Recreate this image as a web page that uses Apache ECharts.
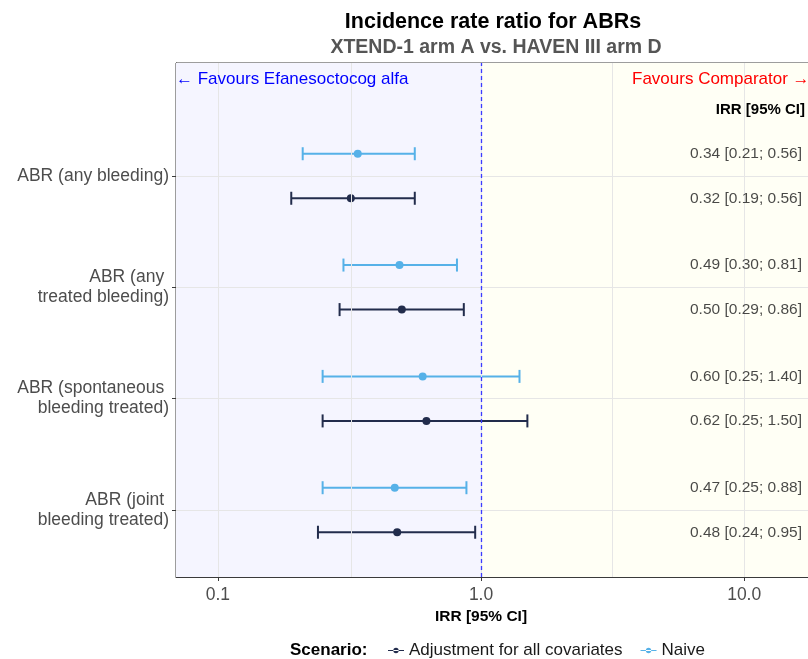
<!DOCTYPE html>
<html><head><meta charset="utf-8">
<script src="https://cdn.jsdelivr.net/npm/echarts@6/dist/echarts.min.js"></script>
<style>html,body{margin:0;padding:0;background:#fff}#c{width:808px;height:659px}</style>
</head><body><div id="c"></div>
<script>
const categories = ['ABR (any bleeding)', 'ABR (any \ntreated bleeding)', 'ABR (spontaneous \nbleeding treated)', 'ABR (joint \nbleeding treated)'];
const naiveEst = [0.34, 0.49, 0.60, 0.47];
const naiveLow = [0.21, 0.30, 0.25, 0.25];
const naiveHigh = [0.56, 0.81, 1.40, 0.88];
const adjEst = [0.32, 0.50, 0.62, 0.48];
const adjLow = [0.19, 0.29, 0.25, 0.24];
const adjHigh = [0.56, 0.86, 1.50, 0.95];
const xTicks = [0.1, 1, 10];
const xMinor = [0.316, 3.162];
const seriesNames = ['Adjustment for all covariates', 'Naive'];

const FONT = 'Liberation Sans, Arial, sans-serif';
const X_MIN = 0.0693, X_MAX = 17.48, Y_MIN = 0.398, Y_MAX = 5.015;
const ANN_X = 16.59;
const cAdj = '#222c4c', cNaive = '#56b1e8';
const n = categories.length;
const yPos = categories.map((_, i) => n - i);
const fmt = v => v.toFixed(2);

function errBar(color) {
  return function (params, api) {
    const lo = api.value(0), hi = api.value(1), y = api.value(2);
    const p1 = api.coord([lo, y]), p2 = api.coord([hi, y]);
    const h = 6.5;
    const st = { stroke: color, lineWidth: 2 };
    return { type: 'group', children: [
      { type: 'line', shape: { x1: p1[0], y1: p1[1], x2: p2[0], y2: p2[1] }, style: st },
      { type: 'line', shape: { x1: p1[0], y1: p1[1] - h, x2: p1[0], y2: p1[1] + h }, style: st },
      { type: 'line', shape: { x1: p2[0], y1: p2[1] - h, x2: p2[0], y2: p2[1] + h }, style: st }
    ]};
  };
}

const naiveY = yPos.map(p => p + 0.2), adjY = yPos.map(p => p - 0.2);
const iconPath = 'path://M0,3.4h18v1.4h-18z M6,4.1a3,3 0 1,0 6,0a3,3 0 1,0 -6,0z';

const chart = echarts.init(document.getElementById('c'));
chart.setOption({
  animation: false,
  textStyle: { fontFamily: FONT },
  title: [
    { text: 'Incidence rate ratio for ABRs', left: 488, top: 6, textAlign: 'center',
      textStyle: { fontSize: 21.5, fontWeight: 'bold', color: '#000', fontFamily: FONT } },
    { text: 'XTEND-1 arm A vs. HAVEN III arm D', left: 491, top: 33, textAlign: 'center',
      textStyle: { fontSize: 19.5, fontWeight: 'bold', color: '#555', fontFamily: FONT } }
  ],
  legend: {
    left: 383, top: 637, itemWidth: 16, itemHeight: 8, itemGap: 18,
    data: seriesNames.map(s => ({ name: s, icon: iconPath })),
    textStyle: { fontSize: 17, color: '#1a1a1a', fontFamily: FONT }
  },
  graphic: [
    { type: 'text', left: 290, top: 642, style: { text: 'Scenario:', font: 'bold 17px ' + FONT, fill: '#000' } },
    { type: 'text', left: 176, top: 71, z: 10, style: { text: '\u2190 Favours Efanesoctocog alfa', font: '17px ' + FONT, fill: '#0000ff' } },
    { type: 'text', left: 632, top: 71, z: 10, style: { text: 'Favours Comparator \u2192', font: '17px ' + FONT, fill: '#ff0000' } },
    { type: 'text', right: 3, top: 102, z: 10, style: { text: 'IRR [95% CI]', font: 'bold 15px ' + FONT, fill: '#000' } }
  ],
  grid: { left: 176, top: 63, width: 634, height: 514, show: true, borderColor: '#3a3a3a', borderWidth: 1, backgroundColor: 'transparent' },
  xAxis: {
    type: 'log', logBase: 10, min: X_MIN, max: X_MAX,
    name: 'IRR [95% CI]', nameLocation: 'middle', nameGap: 21,
    nameTextStyle: { fontSize: 15.5, fontWeight: 'bold', color: '#000', padding: [0, 22, 0, 0], fontFamily: FONT },
    axisLine: { show: true, lineStyle: { color: '#3a3a3a' } },
    axisTick: { show: true, length: 4, customValues: xTicks, lineStyle: { color: '#3a3a3a' } },
    axisLabel: { customValues: xTicks, fontSize: 17.5, color: '#4d4d4d', margin: 9, formatter: v => Number(v).toFixed(1) },
    splitLine: { show: false }
  },
  yAxis: {
    type: 'value', min: Y_MIN, max: Y_MAX,
    axisLine: { show: true, lineStyle: { color: '#3a3a3a' } },
    axisTick: { show: true, length: 4, customValues: yPos, lineStyle: { color: '#3a3a3a' } },
    axisLabel: { customValues: yPos, fontSize: 17.5, color: '#4d4d4d', margin: 7, lineHeight: 20, align: 'right',
      formatter: v => categories[n - Math.round(v)] },
    splitLine: { show: false }
  },
  series: [
    { type: 'scatter', data: [], silent: true, z: 0,
      markArea: { silent: true, data: [
        [{ xAxis: X_MIN, itemStyle: { color: '#f5f5ff' } }, { xAxis: 1 }],
        [{ xAxis: 1, itemStyle: { color: '#fffff5' } }, { xAxis: X_MAX }]
      ] },
      markLine: { silent: true, symbol: 'none', label: { show: false },
        lineStyle: { color: '#e6e6e6', width: 1, type: 'solid' },
        data: xTicks.concat(xMinor).map(v => ({ xAxis: v })).concat(yPos.map(v => ({ yAxis: v }))) }
    },
    { type: 'scatter', data: [], silent: true, z: 1,
      markLine: { silent: true, symbol: 'none', label: { show: false },
        lineStyle: { color: '#3b3bff', width: 1.3, type: [4, 3] },
        data: [{ xAxis: 1 }] }
    },
    { type: 'custom', name: seriesNames[1], renderItem: errBar(cNaive), z: 3, itemStyle: { color: cNaive },
      encode: { x: [0, 1], y: 2 }, data: naiveLow.map((l, i) => [l, naiveHigh[i], naiveY[i]]) },
    { type: 'custom', name: seriesNames[0], renderItem: errBar(cAdj), z: 3, itemStyle: { color: cAdj },
      encode: { x: [0, 1], y: 2 }, data: adjLow.map((l, i) => [l, adjHigh[i], adjY[i]]) },
    { type: 'scatter', name: seriesNames[1], symbolSize: 8, z: 4, itemStyle: { color: cNaive, opacity: 1 },
      data: naiveEst.map((v, i) => [v, naiveY[i]]) },
    { type: 'scatter', name: seriesNames[0], symbolSize: 8, z: 4, itemStyle: { color: cAdj, opacity: 1 },
      data: adjEst.map((v, i) => [v, adjY[i]]) },
    { type: 'scatter', symbolSize: 0, z: 5, silent: true,
      label: { show: true, position: 'left', distance: 0, fontSize: 15.5, color: '#1a1a1a', fontFamily: FONT,
        formatter: p => p.data[2] },
      data: naiveEst.map((v, i) => [ANN_X, naiveY[i], fmt(v) + ' [' + fmt(naiveLow[i]) + '; ' + fmt(naiveHigh[i]) + ']'])
        .concat(adjEst.map((v, i) => [ANN_X, adjY[i], fmt(v) + ' [' + fmt(adjLow[i]) + '; ' + fmt(adjHigh[i]) + ']'])) }
  ]
});
</script></body></html>
